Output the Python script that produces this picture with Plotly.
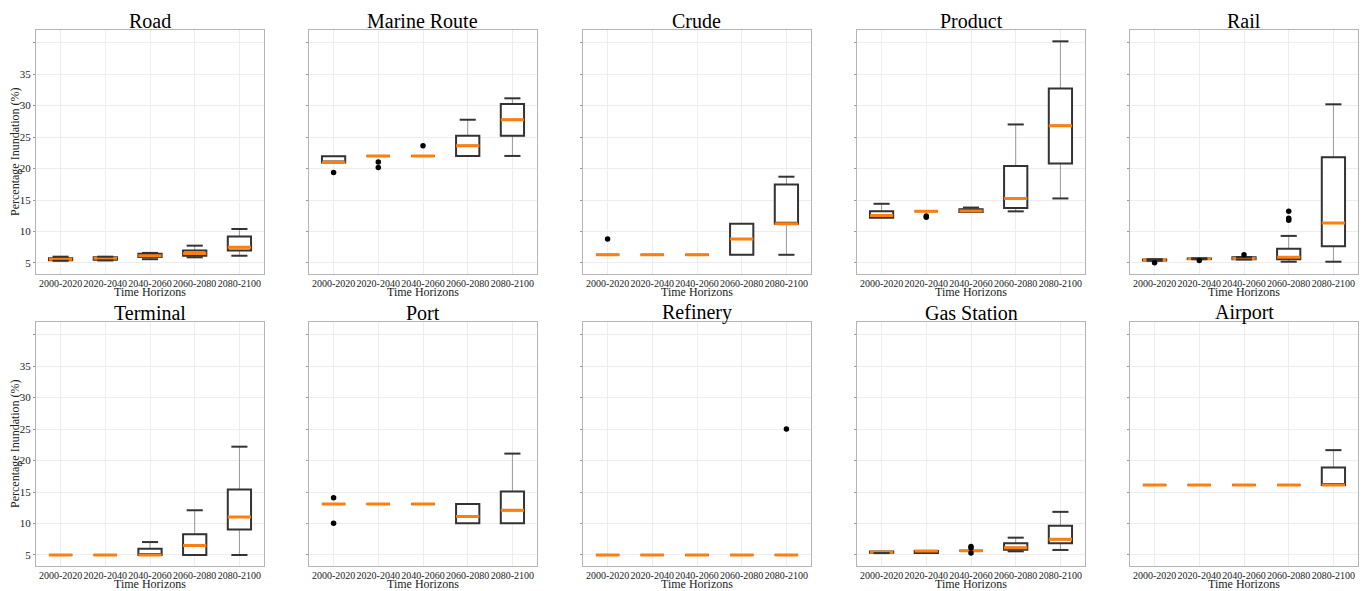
import plotly.graph_objects as go
from plotly.subplots import make_subplots

# Time horizons on the x axis
HORIZONS = ["2000-2020", "2020-2040", "2040-2060", "2060-2080", "2080-2100"]

# Box statistics per asset type: lower whisker, Q1, median, Q3, upper whisker,
# and outliers as (horizon index, value)
ROAD = dict(
    lo=[5.35, 5.40, 5.60, 5.90, 6.15],
    q1=[5.45, 5.50, 5.95, 6.15, 7.00],
    med=[5.60, 5.75, 6.15, 6.50, 7.50],
    q3=[5.75, 5.90, 6.45, 7.00, 9.20],
    hi=[6.00, 6.00, 6.60, 7.75, 10.40],
    out=[],
)
MARINE_ROUTE = dict(
    lo=[20.95, 22.0, 22.0, 22.0, 22.0],
    q1=[20.95, 22.0, 22.0, 22.0, 25.2],
    med=[21.0, 22.0, 22.0, 23.6, 27.75],
    q3=[21.95, 22.0, 22.0, 25.2, 30.25],
    hi=[21.95, 22.0, 22.0, 27.75, 31.15],
    out=[(0, 19.35), (1, 21.05), (1, 20.15), (2, 23.6)],
)
CRUDE = dict(
    lo=[6.3, 6.3, 6.3, 6.3, 6.3],
    q1=[6.3, 6.3, 6.3, 6.3, 11.25],
    med=[6.3, 6.3, 6.3, 8.8, 11.25],
    q3=[6.3, 6.3, 6.3, 11.25, 17.45],
    hi=[6.3, 6.3, 6.3, 11.25, 18.7],
    out=[(0, 8.8)],
)
PRODUCT = dict(
    lo=[12.2, 13.2, 13.1, 13.2, 15.25],
    q1=[12.2, 13.2, 13.1, 13.75, 20.8],
    med=[12.55, 13.2, 13.25, 15.25, 26.8],
    q3=[13.2, 13.2, 13.55, 20.4, 32.7],
    hi=[14.4, 13.2, 13.8, 27.0, 40.2],
    out=[(1, 12.45), (1, 12.25)],
)
RAIL = dict(
    lo=[5.35, 5.60, 5.55, 5.20, 5.20],
    q1=[5.40, 5.62, 5.60, 5.60, 7.65],
    med=[5.48, 5.68, 5.70, 5.90, 11.35],
    q3=[5.55, 5.72, 5.90, 7.25, 21.8],
    hi=[5.60, 5.75, 5.95, 9.30, 30.2],
    out=[(0, 5.05), (1, 5.40), (2, 6.30), (3, 11.8), (3, 12.1), (3, 13.2)],
)
TERMINAL = dict(
    lo=[5.0, 5.0, 5.0, 5.0, 5.0],
    q1=[5.0, 5.0, 5.0, 5.0, 9.05],
    med=[5.0, 5.0, 5.0, 6.5, 11.05],
    q3=[5.0, 5.0, 6.0, 8.3, 15.4],
    hi=[5.0, 5.0, 7.05, 12.1, 22.2],
    out=[],
)
PORT = dict(
    lo=[13.1, 13.1, 13.1, 10.05, 10.05],
    q1=[13.1, 13.1, 13.1, 10.05, 10.05],
    med=[13.1, 13.1, 13.1, 11.1, 12.1],
    q3=[13.1, 13.1, 13.1, 13.1, 15.1],
    hi=[13.1, 13.1, 13.1, 13.1, 21.1],
    out=[(0, 14.1), (0, 10.05)],
)
REFINERY = dict(
    lo=[5.0, 5.0, 5.0, 5.0, 5.0],
    q1=[5.0, 5.0, 5.0, 5.0, 5.0],
    med=[5.0, 5.0, 5.0, 5.0, 5.0],
    q3=[5.0, 5.0, 5.0, 5.0, 5.0],
    hi=[5.0, 5.0, 5.0, 5.0, 5.0],
    out=[(4, 25.0)],
)
GAS_STATION = dict(
    lo=[5.30, 5.32, 5.68, 5.58, 5.80],
    q1=[5.35, 5.32, 5.68, 5.85, 6.85],
    med=[5.45, 5.62, 5.68, 6.15, 7.50],
    q3=[5.55, 5.62, 5.68, 6.85, 9.65],
    hi=[5.55, 5.62, 5.68, 7.75, 11.85],
    out=[(2, 6.35), (2, 6.10), (2, 5.30)],
)
AIRPORT = dict(
    lo=[16.1, 16.1, 16.1, 16.1, 16.1],
    q1=[16.1, 16.1, 16.1, 16.1, 16.1],
    med=[16.1, 16.1, 16.1, 16.1, 16.1],
    q3=[16.1, 16.1, 16.1, 16.1, 18.9],
    hi=[16.1, 16.1, 16.1, 16.1, 21.65],
    out=[],
)

PANELS = [
    ("Road", ROAD), ("Marine Route", MARINE_ROUTE), ("Crude", CRUDE),
    ("Product", PRODUCT), ("Rail", RAIL),
    ("Terminal", TERMINAL), ("Port", PORT), ("Refinery", REFINERY),
    ("Gas Station", GAS_STATION), ("Airport", AIRPORT),
]

Y_TICKS = [5, 10, 15, 20, 25, 30, 35, 40]
Y_TICKTEXT = ["5", "10", "15", "20", "25", "30", "35", ""]

FONT = "Liberation Serif"
W, H = 1367, 591
BOX_COLOR = "#333333"
WHISKER_COLOR = "#999999"
MEDIAN_COLOR = "#ff7f0e"
BOX_WIDTH = 0.52

# Panel geometry in pixels
COL_LEFT = [36, 309, 583, 857, 1130]
PANEL_W = 228
ROW_TOP = [30, 322]
PANEL_H = 244

fig = make_subplots(rows=2, cols=5)

for i, (name, d) in enumerate(PANELS):
    r, c = i // 5 + 1, i % 5 + 1
    # whiskers (thin grey)
    fig.add_trace(go.Box(
        x=HORIZONS, q1=d["q1"], median=d["med"], q3=d["q3"],
        lowerfence=d["lo"], upperfence=d["hi"], boxpoints=False,
        width=BOX_WIDTH, whiskerwidth=0,
        line=dict(color=WHISKER_COLOR, width=1),
        fillcolor="rgba(0,0,0,0)", hoverinfo="skip", showlegend=False,
    ), row=r, col=c)
    # box body (dark outline)
    fig.add_trace(go.Box(
        x=HORIZONS, q1=d["q1"], median=d["med"], q3=d["q3"],
        lowerfence=d["q1"], upperfence=d["q3"], boxpoints=False,
        width=BOX_WIDTH, whiskerwidth=0,
        line=dict(color=BOX_COLOR, width=2),
        fillcolor="white", showlegend=False,
    ), row=r, col=c)
    # median (orange)
    fig.add_trace(go.Box(
        x=HORIZONS, q1=d["med"], median=d["med"], q3=d["med"],
        lowerfence=d["med"], upperfence=d["med"], boxpoints=False,
        width=BOX_WIDTH, whiskerwidth=0,
        line=dict(color=MEDIAN_COLOR, width=3),
        fillcolor="rgba(0,0,0,0)", hoverinfo="skip", showlegend=False,
    ), row=r, col=c)
    # whisker caps
    cap_x, cap_y = [], []
    for k, h in enumerate(HORIZONS):
        if d["hi"][k] > d["q3"][k]:
            cap_x.append(h); cap_y.append(d["hi"][k])
        if d["lo"][k] < d["q1"][k]:
            cap_x.append(h); cap_y.append(d["lo"][k])
    if cap_x:
        fig.add_trace(go.Scatter(
            x=cap_x, y=cap_y, mode="markers",
            marker=dict(symbol="line-ew", size=11.5,
                        line=dict(color=BOX_COLOR, width=2)),
            hoverinfo="skip", showlegend=False,
        ), row=r, col=c)
    # outliers
    if d["out"]:
        fig.add_trace(go.Scatter(
            x=[HORIZONS[k] for k, _ in d["out"]],
            y=[v for _, v in d["out"]],
            mode="markers", marker=dict(color="black", size=5.5),
            showlegend=False,
        ), row=r, col=c)

layout_axes = {}
annotations = []
for i, (name, d) in enumerate(PANELS):
    row, col = i // 5, i % 5
    n = "" if i == 0 else str(i + 1)
    x0 = COL_LEFT[col] / W
    x1 = (COL_LEFT[col] + PANEL_W) / W
    y1 = 1 - ROW_TOP[row] / H
    y0 = 1 - (ROW_TOP[row] + PANEL_H) / H
    layout_axes["xaxis" + n] = dict(
        domain=[x0, x1], type="category", categoryorder="array",
        categoryarray=HORIZONS, range=[-0.55, 4.55],
        showgrid=True, gridcolor="#ededed", gridwidth=1,
        showline=True, mirror=True, linecolor="#b5b5b5", linewidth=1.3,
        ticks="", tickangle=0,
        tickfont=dict(family=FONT, size=10, color="#222"),
        zeroline=False, fixedrange=True,
    )
    layout_axes["yaxis" + n] = dict(
        domain=[y0, y1], range=[3.25, 42],
        tickvals=Y_TICKS, ticktext=Y_TICKTEXT,
        showticklabels=(col == 0),
        showgrid=True, gridcolor="#ededed", gridwidth=1,
        showline=True, mirror=True, linecolor="#b5b5b5", linewidth=1.3,
        ticks="outside", ticklen=2, tickcolor="#999",
        tickfont=dict(family=FONT, size=11, color="#222"),
        zeroline=False, fixedrange=True,
    )
    xc = (x0 + x1) / 2
    annotations.append(dict(
        text=name, x=xc, y=y1, xref="paper", yref="paper",
        xanchor="center", yanchor="bottom", showarrow=False, yshift=-4,
        font=dict(family=FONT, size=20, color="black"),
    ))
    annotations.append(dict(
        text="Time Horizons", x=xc, y=y0, xref="paper", yref="paper",
        xanchor="center", yanchor="top", showarrow=False, yshift=-9,
        font=dict(family=FONT, size=12, color="#222"),
    ))
    if col == 0:
        annotations.append(dict(
            text="Percentage Inundation (%)", x=15 / W, y=(y0 + y1) / 2,
            xref="paper", yref="paper", xanchor="center", yanchor="middle",
            textangle=-90, showarrow=False,
            font=dict(family=FONT, size=12, color="#222"),
        ))

fig.update_layout(
    width=W, height=H, margin=dict(l=0, r=0, t=0, b=0),
    paper_bgcolor="white", plot_bgcolor="white",
    boxmode="overlay", showlegend=False,
    annotations=annotations, **layout_axes,
)

fig.write_html("out.html")
